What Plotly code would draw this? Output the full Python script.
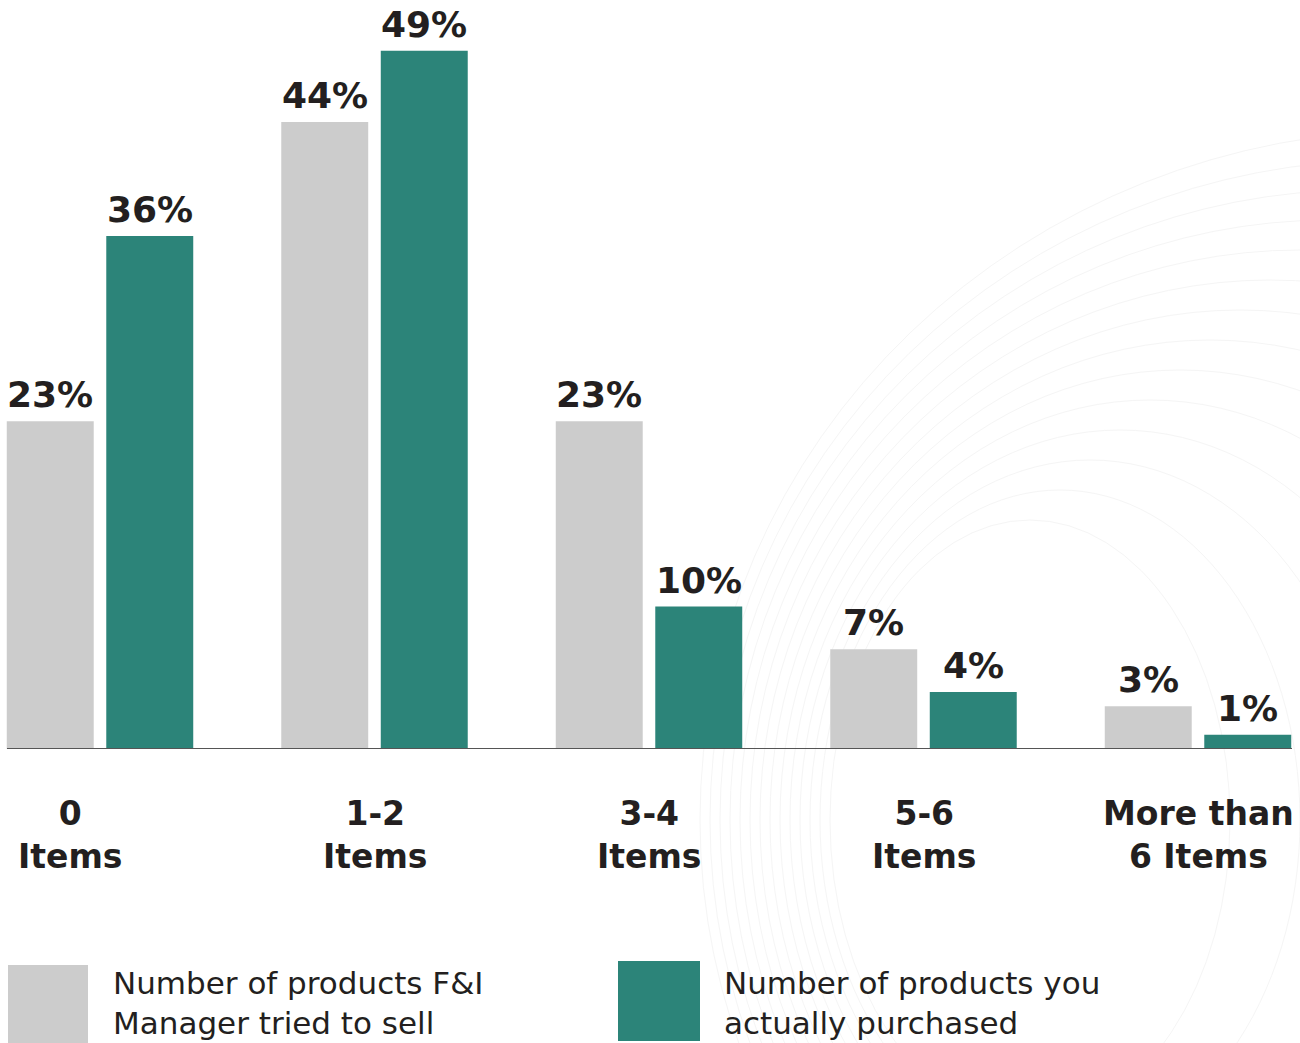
import plotly.graph_objects as go

categories = ["0<br>Items", "1-2<br>Items", "3-4<br>Items", "5-6<br>Items", "More than<br>6 Items"]
tried_to_sell = [23, 44, 23, 7, 3]
purchased = [36, 49, 10, 4, 1]
series_names = ["Number of products F&I<br>Manager tried to sell",
                "Number of products you<br>actually purchased"]
colors = ["#cccccc", "#2c8479"]

W, H = 1300, 1043
FONT = "DejaVu Sans"
TXT = "#231f20"

x = list(range(len(categories)))
fig = go.Figure()
for vals, name, col in zip([tried_to_sell, purchased], series_names, colors):
    fig.add_trace(go.Bar(x=x, y=vals, name=name, marker=dict(color=col, line=dict(width=0)),
                         showlegend=False, hoverinfo="skip"))

# layout geometry
px_per_unit = 274.5
x_left = -100 / px_per_unit
x_right = (W - 100) / px_per_unit
bar_off = 49.75 / px_per_unit

ann = []
for i in x:
    for s, vals in enumerate([tried_to_sell, purchased]):
        ann.append(dict(x=i + (bar_off if s else -bar_off), y=vals[i], xref="x", yref="y",
                        text=f"{vals[i]}%", showarrow=False, yanchor="bottom", yshift=4,
                        font=dict(family=FONT, size=36, color=TXT, weight=700)))
    ann.append(dict(x=i, y=0, xref="x", yref="paper", text=categories[i], showarrow=False,
                    yanchor="middle", yshift=-86, xshift=-30 if i == 0 else 0,
                    font=dict(family=FONT, size=33, color=TXT, weight=600)))

shapes = []
# faint decorative arcs
for k in range(14):
    rx = 200 + k * 40
    ry = 300 + k * 30
    cx, cy = 1030 + k * 30, 820
    shapes.append(dict(type="circle", xref="paper", yref="paper",
                       x0=(cx - rx) / W, x1=(cx + rx) / W,
                       y0=1 - (cy + ry) / 749, y1=1 - (cy - ry) / 749,
                       line=dict(color="#f5f5f5", width=1), layer="below"))
# baseline
shapes.append(dict(type="line", xref="paper", yref="y", x0=7 / W, x1=1292 / W, y0=0, y1=0,
                   line=dict(color="#555555", width=2)))

# legend
leg = [(8, 965, 88, 1043, 111), (618, 961, 700, 1041, 722)]
for (x0, y0, x1, y1, tx), name, col in zip(leg, series_names, colors):
    shapes.append(dict(type="rect", xref="paper", yref="paper",
                       x0=x0 / W, x1=x1 / W, y0=(749 - y1) / 749, y1=(749 - y0) / 749,
                       fillcolor=col, line=dict(width=0)))
    ann.append(dict(x=tx / W, y=(749 - 1003) / 749, xref="paper", yref="paper", text=name,
                    showarrow=False, xanchor="left", yanchor="middle", align="left",
                    font=dict(family=FONT, size=31, color=TXT, weight=500)))

fig.update_layout(
    width=W, height=H,
    margin=dict(l=0, r=0, t=0, b=H - 749),
    paper_bgcolor="white", plot_bgcolor="rgba(0,0,0,0)",
    barmode="group", bargap=0.275, bargroupgap=0.126,
    xaxis=dict(range=[x_left, x_right], visible=False, fixedrange=True),
    yaxis=dict(range=[0, 749 / 14.25], visible=False, fixedrange=True),
    annotations=ann, shapes=shapes,
)
fig.write_html("out.html")
